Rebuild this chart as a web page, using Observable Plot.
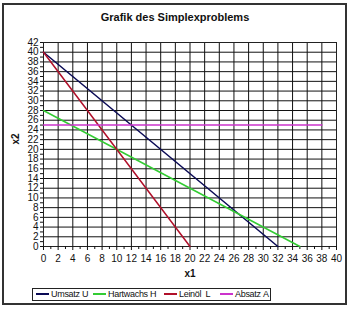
<!DOCTYPE html>
<html><head><meta charset="utf-8">
<script src="https://cdn.jsdelivr.net/npm/d3@7"></script>
<script src="https://cdn.jsdelivr.net/npm/@observablehq/plot@0.6"></script>
<style>
body{margin:0;background:#fff;font-family:"Liberation Sans",Arial,sans-serif;}
#wrap{position:relative;width:350px;height:310px;overflow:hidden;}
#border{position:absolute;left:2px;top:3px;width:341px;height:298px;border:2px solid #333;}
#title{position:absolute;left:0;width:350px;top:11px;text-align:center;font-weight:bold;font-size:11px;color:#111;}
#chart{position:absolute;left:0;top:28px;}
#legend{position:absolute;left:32px;top:288px;width:237px;height:11px;border:1px solid #222;font-size:9px;letter-spacing:-0.3px;color:#111;}
#legend .it{position:absolute;top:0;line-height:11px;white-space:nowrap;}
#legend .sw{display:inline-block;width:13px;height:2px;vertical-align:middle;margin-right:2px;position:relative;top:-1px;}
</style></head>
<body>
<div id="wrap">
<div id="border"></div>
<div id="title">Grafik des Simplexproblems</div>
<div id="chart"></div>
<div id="legend"></div>
</div>
<script>
const seriesNames = ["Umsatz U", "Hartwachs H", "Leinöl  L", "Absatz A"];
const seriesColors = ["#0a0a55", "#33cc33", "#b0102a", "#cc33cc"];
const umsatz = [[0, 40], [32, 0]];
const hartwachs = [[0, 28], [35, 0]];
const leinoel = [[0, 40], [20, 0]];
const absatz = [[0, 25], [38, 25]];
const xTicks = d3.range(0, 41, 2);
const yTicks = d3.range(0, 43, 2);
const xMinor = d3.range(1, 40, 2);
const yMinor = d3.range(1, 42, 2);

const allSeries = [umsatz, hartwachs, leinoel, absatz];

const chart = Plot.plot({
  width: 350,
  height: 256,
  marginLeft: 43,
  marginRight: 14,
  marginTop: 14,
  marginBottom: 38,
  style: {fontFamily: "'Liberation Sans', Arial, sans-serif", fontSize: "10px", color: "#111", background: "transparent"},
  x: {domain: [0, 40]},
  y: {domain: [0, 42]},
  marks: [
    Plot.ruleX(xTicks, {stroke: "#111", strokeWidth: 1}),
    Plot.ruleY(yTicks, {stroke: "#111", strokeWidth: 1}),
    Plot.frame({stroke: "#222"}),
    Plot.axisX(xTicks, {tickSize: 4, tickPadding: 4, label: null, fontSize: 10}),
    Plot.axisX(xMinor, {tickSize: 3, tickFormat: () => "", label: null}),
    Plot.axisY(yTicks, {tickSize: 3, tickPadding: 2, label: null, fontSize: 10}),
    Plot.axisY(yMinor, {tickSize: 3, tickFormat: () => "", label: null}),
    ...allSeries.map((s, i) => Plot.line(s, {x: d => d[0], y: d => d[1], stroke: seriesColors[i], strokeWidth: 1.5})),
    Plot.text(["x1"], {frameAnchor: "bottom", dy: 30, fontWeight: "bold", fontSize: 10}),
    Plot.text(["x2"], {frameAnchor: "left", dx: -28, rotate: -90, fontWeight: "bold", fontSize: 10})
  ]
});
document.getElementById("chart").appendChild(chart);

const legendPos = [3, 60, 131, 187];
const legend = document.getElementById("legend");
seriesNames.forEach((n, i) => {
  const it = document.createElement("span");
  it.className = "it";
  it.style.left = legendPos[i] + "px";
  it.innerHTML = `<span class="sw" style="background:${seriesColors[i]}"></span>${n.replace(/ /g, "&nbsp;")}`;
  legend.appendChild(it);
});
</script>
</body></html>
